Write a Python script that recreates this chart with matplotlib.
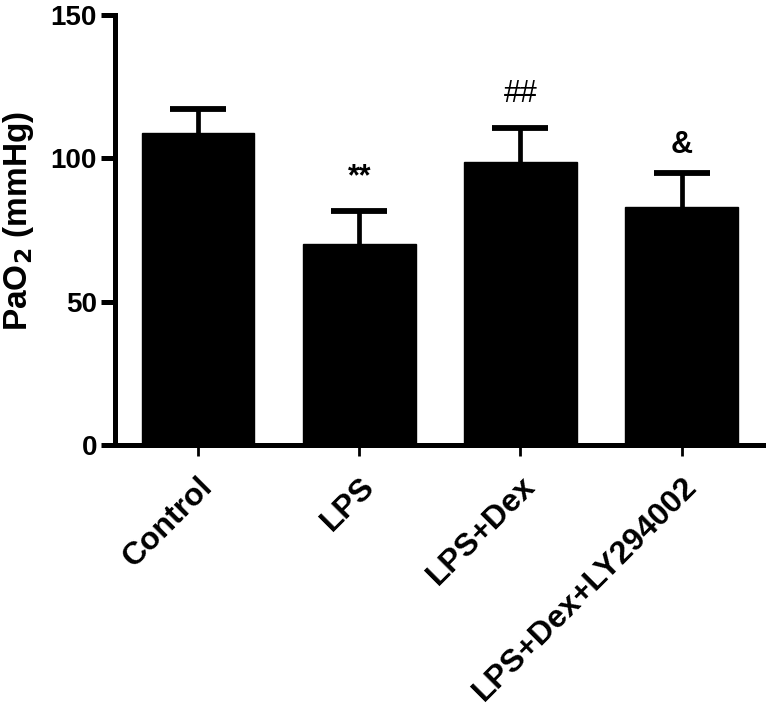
import matplotlib
matplotlib.use("Agg")
import matplotlib.pyplot as plt

plt.rcParams['font.family'] = ['Liberation Sans', 'DejaVu Sans']
plt.rcParams['font.weight'] = 'bold'

categories = ["Control", "LPS", "LPS+Dex", "LPS+Dex+LY294002"]
means = [108.7, 70.0, 98.8, 83.1]
errors = [8.6, 11.7, 11.7, 11.7]
annotations = ["", "**", "##", "&"]
annot_y = [None, 93.5, 122.5, 104.5]
yticks = [0, 50, 100, 150]

fig = plt.figure(figsize=(7.68, 7.17), dpi=100)
ax = fig.add_axes([0.1497, 0.3794, 0.8438, 0.5996])

x = list(range(len(categories)))
ax.bar(x, means, width=0.70, color='black', edgecolor='black', zorder=2)
eb = ax.errorbar(x, means, yerr=[[0]*len(means), errors], fmt='none', ecolor='black',
                 elinewidth=3.4, capsize=20, capthick=4.2, zorder=1)
eb[1][0].set_visible(False)
for cl in eb[1]:
    cl.set_solid_capstyle('round')

for xi, txt, ya in zip(x, annotations, annot_y):
    if txt:
        ax.text(xi, ya, txt, ha='center', va='center', fontsize=22,
                fontweight='bold' if txt != "##" else 'normal')

ax.set_xlim(-0.515, 3.505)
ax.set_ylim(0, 150)
ax.set_yticks(yticks)
ax.set_yticklabels([str(v) for v in yticks], fontsize=20, fontweight='bold')
ax.set_xticks(x)
ax.set_xticklabels(categories, rotation=45, ha='right', rotation_mode='anchor',
                   fontsize=23, fontweight='bold')
ax.set_ylabel("PaO$_\\mathbf{2}$ (mmHg)", fontsize=24, fontweight='bold')
ax.yaxis.set_label_coords(-0.122, 0.521)

for s in ['top', 'right']:
    ax.spines[s].set_visible(False)
for s in ['left', 'bottom']:
    ax.spines[s].set_linewidth(3.6)
ax.tick_params(axis='y', length=10, width=3.6, pad=3)
ax.tick_params(axis='x', length=8, width=2, pad=11)

fig.savefig("out.png", dpi=100)
